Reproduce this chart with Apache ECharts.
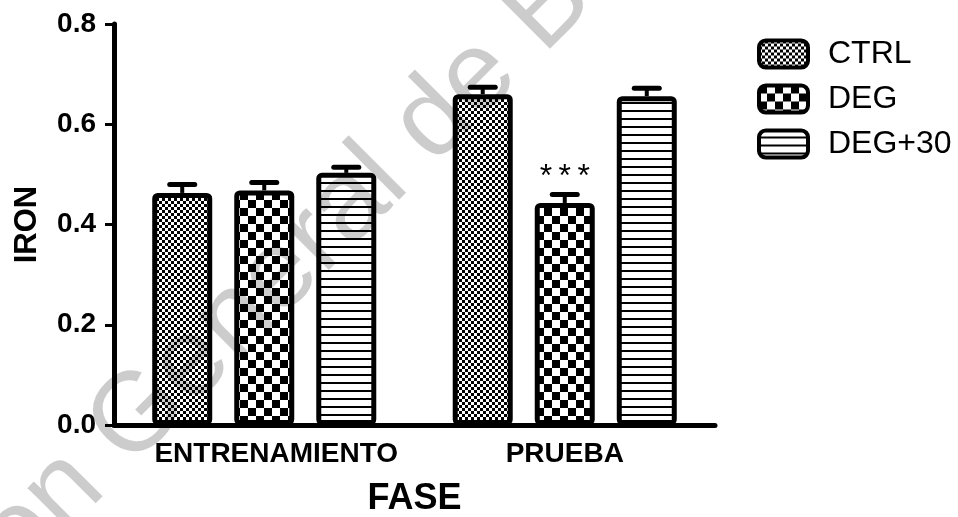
<!DOCTYPE html>
<html>
<head>
<meta charset="utf-8">
<script src="https://cdn.jsdelivr.net/npm/echarts@6/dist/echarts.min.js"></script>
<style>
  html, body { margin: 0; padding: 0; background: #fff; }
  #chart { width: 958px; height: 517px; }
</style>
</head>
<body>
<div id="chart"></div>
<script>
// Phases on the x axis
const phases = ['ENTRENAMIENTO', 'PRUEBA'];
// Group names
const groups = ['CTRL', 'DEG', 'DEG+30'];
// Mean IRON per group, per phase
const ctrlMean = [0.463, 0.660];
const degMean = [0.468, 0.443];
const deg30Mean = [0.503, 0.656];
// Error (upper whisker) per group, per phase
const ctrlErr = [0.017, 0.014];
const degErr = [0.016, 0.017];
const deg30Err = [0.011, 0.016];
// Significance marks per phase for DEG
const degMarks = ['', '***'];
// Y axis ticks
const yTicks = [0.0, 0.2, 0.4, 0.6, 0.8];

const means = [ctrlMean, degMean, deg30Mean];
const errs = [ctrlErr, degErr, deg30Err];

const BAR_W = 60;
const BAR_GAP = 0.367;

// Black-and-white fill patterns
function makePattern(kind) {
  const c = document.createElement('canvas');
  const ctx = c.getContext('2d');
  if (kind === 'fineCheck') {
    const s = 3;
    c.width = c.height = s * 2;
    ctx.fillStyle = '#fff'; ctx.fillRect(0, 0, s * 2, s * 2);
    ctx.fillStyle = '#000';
    ctx.fillRect(0, 0, s, s); ctx.fillRect(s, s, s, s);
  } else if (kind === 'check') {
    const s = 8;
    c.width = c.height = s * 2;
    ctx.fillStyle = '#fff'; ctx.fillRect(0, 0, s * 2, s * 2);
    ctx.fillStyle = '#000';
    ctx.fillRect(0, 0, s, s); ctx.fillRect(s, s, s, s);
  } else {
    c.width = 8; c.height = 8;
    ctx.fillStyle = '#fff'; ctx.fillRect(0, 0, 8, 8);
    ctx.fillStyle = '#000'; ctx.fillRect(0, 6, 8, 2);
  }
  return { image: c, repeat: 'repeat' };
}
const fills = [makePattern('fineCheck'), makePattern('check'), makePattern('lines')];

const FONT = 'Liberation Sans, Arial, sans-serif';

const chart = echarts.init(document.getElementById('chart'), null, { renderer: 'canvas' });

const barSeries = groups.map((g, i) => ({
  name: g,
  type: 'bar',
  barWidth: BAR_W,
  barGap: (BAR_GAP * 100) + '%',
  data: means[i].map((v, j) => {
    const item = { value: v };
    if (i === 1 && degMarks[j]) {
      item.label = {
        show: true, position: 'top', distance: 10,
        formatter: degMarks[j].split('').join('\u2009'),
        fontFamily: FONT, fontSize: 32, color: '#000'
      };
    }
    return item;
  }),
  itemStyle: { color: fills[i], borderColor: '#000', borderWidth: 5, borderRadius: 3 },
  emphasis: { disabled: true },
  z: 2
}));

const errSeries = groups.map((g, i) => ({
  name: g + ' error',
  type: 'custom',
  data: means[i].map((v, j) => [j, v, errs[i][j]]),
  renderItem: function (params, api) {
    const ci = api.value(0), v = api.value(1), e = api.value(2);
    const base = api.coord([ci, v]);
    const tip = api.coord([ci, v + e]);
    const x = base[0] + (i - 1) * BAR_W * (1 + BAR_GAP);
    return {
      type: 'group',
      children: [
        { type: 'line', shape: { x1: x, y1: base[1], x2: x, y2: tip[1] },
          style: { stroke: '#000', lineWidth: 4 } },
        { type: 'line', shape: { x1: x - 12.5, y1: tip[1], x2: x + 12.5, y2: tip[1] },
          style: { stroke: '#000', lineWidth: 5, lineCap: 'round' } }
      ]
    };
  },
  z: 3,
  silent: true
}));

chart.setOption({
  animation: false,
  backgroundColor: '#fff',
  grid: { left: 114, right: 243, top: 24, bottom: 92, containLabel: false, outerBoundsMode: 'none' },
  legend: {
    data: groups,
    orient: 'vertical',
    left: 757, top: 38, padding: 0,
    itemWidth: 49, itemHeight: 27, itemGap: 13,
    icon: 'roundRect',
    itemStyle: { borderColor: '#000', borderWidth: 4 },
    textStyle: { fontFamily: FONT, fontSize: 32, color: '#000', padding: [0, 0, 0, 15] },
    selectedMode: false
  },
  xAxis: {
    type: 'category',
    data: phases,
    name: 'FASE',
    nameLocation: 'middle',
    nameGap: 56,
    nameTextStyle: { fontFamily: FONT, fontSize: 36, fontWeight: 'bold', color: '#000' },
    axisLine: { lineStyle: { color: '#000', width: 5 } },
    axisTick: { alignWithLabel: true, length: 9, lineStyle: { color: '#000', width: 3 } },
    axisLabel: {
      margin: 15,
      formatter: function (v, idx) { return idx === 0 ? '{s|' + v + '}' : '{n|' + v + '}'; },
      rich: {
        s: { fontFamily: FONT, fontSize: 28, fontWeight: 'bold', color: '#000', padding: [0, 0, 0, 24] },
        n: { fontFamily: FONT, fontSize: 28, fontWeight: 'bold', color: '#000' }
      }
    },
    splitLine: { show: false }
  },
  yAxis: {
    type: 'value',
    min: yTicks[0],
    max: yTicks[yTicks.length - 1],
    interval: yTicks[1] - yTicks[0],
    name: 'IRON',
    nameLocation: 'middle',
    nameGap: 71,
    nameRotate: 90,
    nameTextStyle: { fontFamily: FONT, fontSize: 31, fontWeight: 'bold', color: '#000' },
    axisLine: { show: true, lineStyle: { color: '#000', width: 5 } },
    axisTick: { show: true, length: 9, lineStyle: { color: '#000', width: 3 } },
    axisLabel: {
      margin: 18,
      formatter: v => v.toFixed(1),
      fontFamily: FONT, fontSize: 28, fontWeight: 'bold', color: '#000'
    },
    splitLine: { show: false }
  },
  series: barSeries.concat(errSeries),
  graphic: [
    {
      type: 'text', x: 350, y: 126, rotation: Math.PI / 4, z: 100, silent: true,
      style: { text: 'Dirección General', fontFamily: FONT, fontSize: 112,
               fill: 'rgba(0,0,0,0.2)', align: 'right', verticalAlign: 'alphabetic' }
    },
    {
      type: 'text', x: 350, y: 126, rotation: Math.PI / 4, z: 100, silent: true,
      style: { text: ' de Bibliotecas', fontFamily: FONT, fontSize: 112,
               fill: 'rgba(0,0,0,0.2)', align: 'left', verticalAlign: 'alphabetic' }
    }
  ]
});
</script>
</body>
</html>
